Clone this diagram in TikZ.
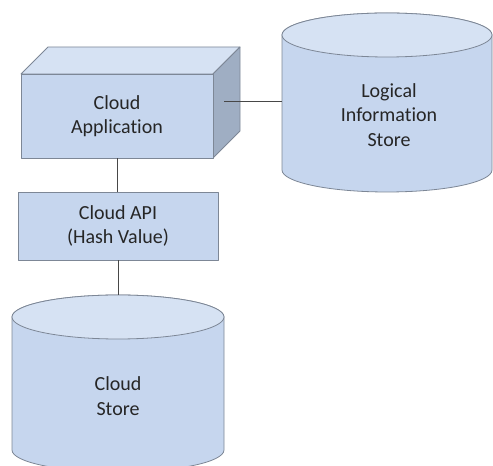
\documentclass[tikz,border=0pt]{standalone}
\usepackage{fontspec}
\setmainfont[Ligatures={NoCommon}]{Carlito}
\definecolor{frontc}{HTML}{C6D6EE}
\definecolor{topc}{HTML}{D6E2F3}
\definecolor{sidec}{HTML}{9FAEC3}
\definecolor{edgec}{HTML}{7D8796}
\definecolor{inkc}{HTML}{262626}
\begin{document}
\begin{tikzpicture}[x=1pt,y=1pt,
  facet/.style={draw=edgec, line width=0.8pt, line join=round},
  link/.style={draw=inkc!85, line width=0.9pt},
  lbl/.style={text=inkc, align=center, inner sep=0pt,
    font=\fontsize{20}{24.4}\selectfont}]
\useasboundingbox (0,0) rectangle (493,466);

% 3D box: top and side faces behind the front face
\path[facet, fill=topc] (21,392) -- (48,419) -- (240,419) -- (213,392) -- cycle;
\path[facet, fill=sidec] (213,392) -- (240,419) -- (240,335) -- (213,308) -- cycle;
\node[lbl, facet, fill=frontc, minimum width=192, minimum height=84] (app) at (117,350) {Cloud\\Application};

% API box
\node[lbl, facet, fill=frontc, minimum width=200, minimum height=68] (api) at (118,240) {Cloud API\\(Hash Value)};

% Logical information store cylinder
\path[facet, fill=frontc] (282,431) -- (282,296)
  arc[start angle=180, end angle=360, x radius=105, y radius=22]
  -- (492,431) arc[start angle=0, end angle=180, x radius=105, y radius=22] -- cycle;
\path[facet, fill=topc] (387,431) ellipse [x radius=105, y radius=22];
\node[lbl] (lis) at (389,351) {Logical\\Information\\Store};

% Cloud store cylinder
\path[facet, fill=frontc] (12,149) -- (12,16)
  arc[start angle=180, end angle=360, x radius=106, y radius=22]
  -- (224,149) arc[start angle=0, end angle=180, x radius=106, y radius=22] -- cycle;
\path[facet, fill=topc] (118,149) ellipse [x radius=106, y radius=22];
\node[lbl] (cs) at (118,70) {Cloud\\Store};

% connection points
\coordinate (appside) at (224,365);
\coordinate (lisW) at (282,365);
\coordinate (cstop) at (118,171);

% connectors
\draw[link] (appside) -- (lisW);
\draw[link] (app.south) -- (app.south |- api.north);
\draw[link] (api.south) -- (cstop);
\end{tikzpicture}
\end{document}
